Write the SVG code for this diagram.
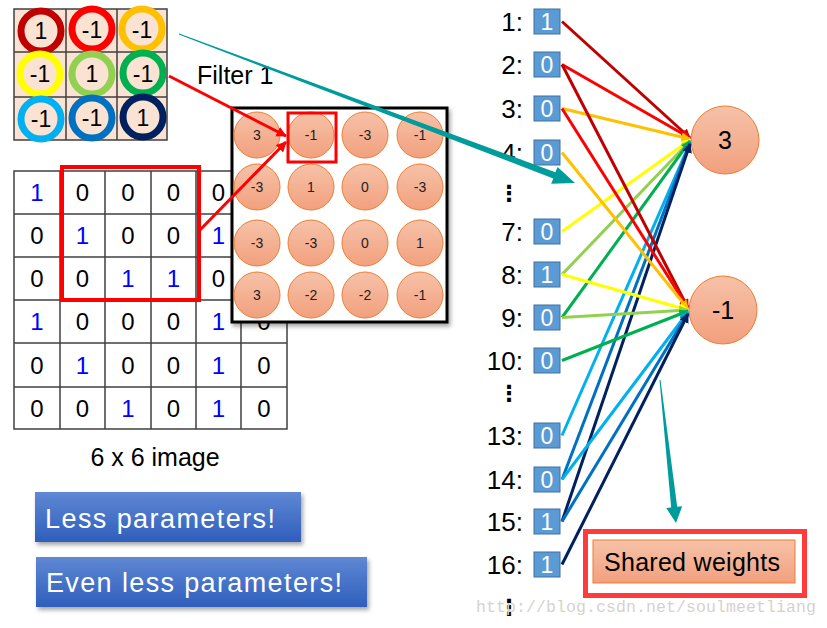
<svg xmlns="http://www.w3.org/2000/svg" width="827" height="628" viewBox="0 0 827 628">
<style>
text{font-family:"Liberation Sans",Arial,sans-serif;fill:#000}
.gl{stroke:#404040;stroke-width:1.5;fill:none}
.fc{fill:#FBE3D3}
.ring{fill:none;stroke-width:7}
.fn{font-size:23px;text-anchor:middle}
.gn{font-size:24px;text-anchor:middle}
.bl{fill:#0000FF}
.pc{fill:url(#peach);stroke:#ED7D31;stroke-width:1}
.mn{font-size:14px;text-anchor:middle;fill:#222}
.lab{font-size:26px;text-anchor:end}
.box{fill:#5B9BD5;stroke:#41719C;stroke-width:1}
.bv{font-size:23px;text-anchor:middle;fill:#fff}
.ln{stroke-width:3;fill:none}
.dots{font-family:"DejaVu Sans",sans-serif;font-size:22px;font-weight:bold;text-anchor:middle}
.btn{fill:url(#blue);filter:url(#sh)}
.bt{font-size:27px;fill:#fff}
.teal{fill:#009C9C}
</style>
<defs>
<linearGradient id="peach" x1="0" y1="0" x2="0" y2="1"><stop offset="0" stop-color="#F6C2A8"/><stop offset="1" stop-color="#F2A07E"/></linearGradient>
<linearGradient id="blue" x1="0" y1="0" x2="0" y2="1"><stop offset="0" stop-color="#5F88D4"/><stop offset="1" stop-color="#2F5EBC"/></linearGradient>
<filter id="sh" x="-10%" y="-10%" width="125%" height="140%"><feDropShadow dx="2" dy="3" stdDeviation="2" flood-color="#000" flood-opacity="0.35"/></filter>
<marker id="m1" viewBox="0 0 10 10" refX="9" refY="5" markerWidth="3.2" markerHeight="3.2" orient="auto"><path d="M0,0L10,5L0,10z" fill="#C00000"/></marker>
<marker id="m2" viewBox="0 0 10 10" refX="9" refY="5" markerWidth="3.2" markerHeight="3.2" orient="auto"><path d="M0,0L10,5L0,10z" fill="#FF0000"/></marker>
<marker id="m3" viewBox="0 0 10 10" refX="9" refY="5" markerWidth="3.2" markerHeight="3.2" orient="auto"><path d="M0,0L10,5L0,10z" fill="#FFC000"/></marker>
<marker id="m4" viewBox="0 0 10 10" refX="9" refY="5" markerWidth="3.2" markerHeight="3.2" orient="auto"><path d="M0,0L10,5L0,10z" fill="#FFFF00"/></marker>
<marker id="m5" viewBox="0 0 10 10" refX="9" refY="5" markerWidth="3.2" markerHeight="3.2" orient="auto"><path d="M0,0L10,5L0,10z" fill="#92D050"/></marker>
<marker id="m6" viewBox="0 0 10 10" refX="9" refY="5" markerWidth="3.2" markerHeight="3.2" orient="auto"><path d="M0,0L10,5L0,10z" fill="#00B050"/></marker>
<marker id="m7" viewBox="0 0 10 10" refX="9" refY="5" markerWidth="3.2" markerHeight="3.2" orient="auto"><path d="M0,0L10,5L0,10z" fill="#00B0F0"/></marker>
<marker id="m8" viewBox="0 0 10 10" refX="9" refY="5" markerWidth="3.2" markerHeight="3.2" orient="auto"><path d="M0,0L10,5L0,10z" fill="#0070C0"/></marker>
<marker id="m9" viewBox="0 0 10 10" refX="9" refY="5" markerWidth="3.2" markerHeight="3.2" orient="auto"><path d="M0,0L10,5L0,10z" fill="#002060"/></marker>
<marker id="mr" viewBox="0 0 10 10" refX="9" refY="5" markerWidth="3.5" markerHeight="3.5" orient="auto"><path d="M0,0L10,5L0,10z" fill="#FF0000"/></marker>
</defs>
<rect width="827" height="628" fill="#fff"/>

<!-- Filter 1 -->
<g id="filter">
<rect class="fc" x="14" y="9" width="153" height="131"/>
<path class="gl" d="M14,9H167V140H14Z M14,52H167 M14,97H167 M66,9V140 M117,9V140"/>
<circle class="ring" cx="41" cy="31" r="20" stroke="#C00000"/>
<circle class="ring" cx="92" cy="29" r="20" stroke="#FF0000"/>
<circle class="ring" cx="142" cy="29" r="20" stroke="#FFC000"/>
<circle class="ring" cx="40" cy="74" r="20" stroke="#FFFF00"/>
<circle class="ring" cx="92" cy="74" r="20" stroke="#92D050"/>
<circle class="ring" cx="143" cy="73" r="20" stroke="#00B050"/>
<circle class="ring" cx="41" cy="119" r="20" stroke="#00B0F0"/>
<circle class="ring" cx="92" cy="118" r="20" stroke="#0070C0"/>
<circle class="ring" cx="143" cy="117" r="20" stroke="#002060"/>
<text class="fn" x="41" y="39">1</text>
<text class="fn" x="92" y="38">-1</text>
<text class="fn" x="142" y="38">-1</text>
<text class="fn" x="40" y="82">-1</text>
<text class="fn" x="92" y="82">1</text>
<text class="fn" x="143" y="82">-1</text>
<text class="fn" x="41" y="127">-1</text>
<text class="fn" x="92" y="126">-1</text>
<text class="fn" x="143" y="126">1</text>
</g>
<text id="filter-label" x="197" y="84" font-size="25">Filter 1</text>

<!-- 6x6 image -->
<g id="image">
<path class="gl" d="M14,171H287V429H14Z M14,214H287 M14,257H287 M14,300H287 M14,343H287 M14,387H287 M60,171V429 M105,171V429 M151,171V429 M196,171V429 M241,171V429"/>
<g class="gn">
<text x="37" y="201" class="bl">1</text><text x="82.5" y="201">0</text><text x="128" y="201">0</text><text x="173.5" y="201">0</text><text x="218.5" y="201">0</text>
<text x="37" y="244">0</text><text x="82.5" y="244" class="bl">1</text><text x="128" y="244">0</text><text x="173.5" y="244">0</text><text x="218.5" y="244" class="bl">1</text>
<text x="37" y="287">0</text><text x="82.5" y="287">0</text><text x="128" y="287" class="bl">1</text><text x="173.5" y="287" class="bl">1</text><text x="218.5" y="287">0</text>
<text x="37" y="330" class="bl">1</text><text x="82.5" y="330">0</text><text x="128" y="330">0</text><text x="173.5" y="330">0</text><text x="218.5" y="330" class="bl">1</text><text x="264" y="330">0</text>
<text x="37" y="373.5">0</text><text x="82.5" y="373.5" class="bl">1</text><text x="128" y="373.5">0</text><text x="173.5" y="373.5">0</text><text x="218.5" y="373.5" class="bl">1</text><text x="264" y="373.5">0</text>
<text x="37" y="416.5">0</text><text x="82.5" y="416.5">0</text><text x="128" y="416.5" class="bl">1</text><text x="173.5" y="416.5">0</text><text x="218.5" y="416.5" class="bl">1</text><text x="264" y="416.5">0</text>
</g>
<rect x="62" y="167" width="137" height="133" fill="none" stroke="#FF0000" stroke-width="4"/>
</g>
<text id="image-label" x="155" y="466" font-size="25" text-anchor="middle">6 x 6 image</text>

<!-- feature map -->
<g id="feature-map">
<rect x="232" y="108" width="215" height="214" fill="#fff" stroke="#000" stroke-width="3" filter="url(#sh)"/>
<circle class="pc" cx="257" cy="135" r="23"/><circle class="pc" cx="311" cy="135" r="23"/><circle class="pc" cx="365" cy="135" r="23"/><circle class="pc" cx="420" cy="135" r="23"/>
<circle class="pc" cx="257" cy="187" r="23"/><circle class="pc" cx="311" cy="187" r="23"/><circle class="pc" cx="365" cy="187" r="23"/><circle class="pc" cx="420" cy="187" r="23"/>
<circle class="pc" cx="257" cy="243" r="23"/><circle class="pc" cx="311" cy="243" r="23"/><circle class="pc" cx="365" cy="243" r="23"/><circle class="pc" cx="420" cy="243" r="23"/>
<circle class="pc" cx="257" cy="295" r="23"/><circle class="pc" cx="311" cy="295" r="23"/><circle class="pc" cx="365" cy="295" r="23"/><circle class="pc" cx="420" cy="295" r="23"/>
<text class="mn" x="257" y="140">3</text><text class="mn" x="311" y="140">-1</text><text class="mn" x="365" y="140">-3</text><text class="mn" x="420" y="140">-1</text>
<text class="mn" x="257" y="192">-3</text><text class="mn" x="311" y="192">1</text><text class="mn" x="365" y="192">0</text><text class="mn" x="420" y="192">-3</text>
<text class="mn" x="257" y="248">-3</text><text class="mn" x="311" y="248">-3</text><text class="mn" x="365" y="248">0</text><text class="mn" x="420" y="248">1</text>
<text class="mn" x="257" y="300">3</text><text class="mn" x="311" y="300">-2</text><text class="mn" x="365" y="300">-2</text><text class="mn" x="420" y="300">-1</text>
<rect x="288" y="113" width="48" height="49" fill="none" stroke="#FF0000" stroke-width="3"/>
</g>

<!-- inputs -->
<g id="in1"><text class="lab" x="523" y="31">1:</text><rect class="box" x="534" y="9" width="26" height="25"/><text class="bv" x="547" y="30">1</text></g>
<g id="in2"><text class="lab" x="523" y="74">2:</text><rect class="box" x="534" y="52" width="26" height="25"/><text class="bv" x="547" y="73">0</text></g>
<g id="in3"><text class="lab" x="523" y="118">3:</text><rect class="box" x="534" y="96" width="26" height="25"/><text class="bv" x="547" y="117">0</text></g>
<g id="in4"><text class="lab" x="523" y="162">4:</text><rect class="box" x="534" y="140" width="26" height="25"/><text class="bv" x="547" y="161">0</text></g>
<text class="dots" x="509" y="201">⋮</text>
<g id="in7"><text class="lab" x="523" y="241">7:</text><rect class="box" x="534" y="219" width="26" height="25"/><text class="bv" x="547" y="240">0</text></g>
<g id="in8"><text class="lab" x="523" y="284">8:</text><rect class="box" x="534" y="262" width="26" height="25"/><text class="bv" x="547" y="283">1</text></g>
<g id="in9"><text class="lab" x="523" y="327">9:</text><rect class="box" x="534" y="305" width="26" height="25"/><text class="bv" x="547" y="326">0</text></g>
<g id="in10"><text class="lab" x="523" y="370">10:</text><rect class="box" x="534" y="348" width="26" height="25"/><text class="bv" x="547" y="369">0</text></g>
<text class="dots" x="509" y="401">⋮</text>
<g id="in13"><text class="lab" x="523" y="445">13:</text><rect class="box" x="534" y="423" width="26" height="25"/><text class="bv" x="547" y="444">0</text></g>
<g id="in14"><text class="lab" x="523" y="489">14:</text><rect class="box" x="534" y="467" width="26" height="25"/><text class="bv" x="547" y="488">0</text></g>
<g id="in15"><text class="lab" x="523" y="531">15:</text><rect class="box" x="534" y="509" width="26" height="25"/><text class="bv" x="547" y="530">1</text></g>
<g id="in16"><text class="lab" x="523" y="574">16:</text><rect class="box" x="534" y="552" width="26" height="25"/><text class="bv" x="547" y="573">1</text></g>
<text class="dots" x="509" y="615">⋮</text>

<!-- output nodes -->
<g id="out3"><circle class="pc" cx="725" cy="140" r="34"/><text x="725" y="149" font-size="25" text-anchor="middle">3</text></g>
<g id="out-1"><circle class="pc" cx="723" cy="310" r="34"/><text x="723" y="319" font-size="25" text-anchor="middle">-1</text></g>

<!-- connectors -->
<g id="connectors">
<line class="ln" x1="169" y1="76" x2="286" y2="136" stroke="#FF0000" marker-end="url(#mr)"/>
<line class="ln" x1="199" y1="231" x2="286" y2="142" stroke="#FF0000" marker-end="url(#mr)"/>
<polygon class="teal" points="179.2,33.5 555.4,172.2 557.6,166.9 575,183 551.2,183.7 553.3,178.4 178.8,34.5"/>
<polygon class="teal" points="660.5,379.9 677.2,506.8 682.2,506.2 676,523 666.2,508 671.2,507.4 659.5,380.1"/>
<line class="ln" x1="562" y1="21.5" x2="690" y2="138" stroke="#C00000" marker-end="url(#m1)"/>
<line class="ln" x1="562" y1="64.5" x2="690" y2="138" stroke="#FF0000" marker-end="url(#m2)"/>
<line class="ln" x1="562" y1="108.5" x2="690" y2="139" stroke="#FFC000" marker-end="url(#m3)"/>
<line class="ln" x1="562" y1="231.5" x2="690" y2="140" stroke="#FFFF00" marker-end="url(#m4)"/>
<line class="ln" x1="562" y1="274.5" x2="690" y2="141" stroke="#92D050" marker-end="url(#m5)"/>
<line class="ln" x1="562" y1="317.5" x2="690" y2="141" stroke="#00B050" marker-end="url(#m6)"/>
<line class="ln" x1="562" y1="435.5" x2="690" y2="143" stroke="#00B0F0" marker-end="url(#m7)"/>
<line class="ln" x1="562" y1="479.5" x2="690" y2="143" stroke="#0070C0" marker-end="url(#m8)"/>
<line class="ln" x1="562" y1="521.5" x2="690" y2="144" stroke="#002060" marker-end="url(#m9)"/>
<line class="ln" x1="562" y1="64.5" x2="688" y2="308" stroke="#C00000" marker-end="url(#m1)"/>
<line class="ln" x1="562" y1="108.5" x2="688" y2="308" stroke="#FF0000" marker-end="url(#m2)"/>
<line class="ln" x1="562" y1="152.5" x2="688" y2="309" stroke="#FFC000" marker-end="url(#m3)"/>
<line class="ln" x1="562" y1="274.5" x2="688" y2="310" stroke="#FFFF00" marker-end="url(#m4)"/>
<line class="ln" x1="562" y1="317.5" x2="688" y2="310" stroke="#92D050" marker-end="url(#m5)"/>
<line class="ln" x1="562" y1="360.5" x2="688" y2="311" stroke="#00B050" marker-end="url(#m6)"/>
<line class="ln" x1="562" y1="479.5" x2="688" y2="312" stroke="#00B0F0" marker-end="url(#m7)"/>
<line class="ln" x1="562" y1="521.5" x2="688" y2="313" stroke="#0070C0" marker-end="url(#m8)"/>
<line class="ln" x1="562" y1="564.5" x2="688" y2="314" stroke="#002060" marker-end="url(#m9)"/>
</g>

<!-- shared weights -->
<g id="shared-weights">
<rect x="585.5" y="531.5" width="219" height="64" fill="#fff" stroke="#FF3B3B" stroke-width="5"/>
<rect x="593" y="540" width="202" height="43" fill="url(#peach)" stroke="#ED7D31" stroke-width="1"/>
<text x="692" y="571" font-size="25" text-anchor="middle" textLength="176">Shared weights</text>
</g>

<!-- buttons -->
<g id="less-params"><rect class="btn" x="35" y="492" width="266" height="50"/><text class="bt" x="45" y="528" textLength="230">Less parameters!</text></g>
<g id="even-less-params"><rect class="btn" x="36" y="557" width="331" height="50"/><text class="bt" x="46" y="592" textLength="296">Even less parameters!</text></g>

<text x="476" y="612" font-size="16.5" textLength="340" style="font-family:'Liberation Mono',monospace;fill:#D6D2CB">http://blog.csdn.net/soulmeetliang</text>
</svg>
